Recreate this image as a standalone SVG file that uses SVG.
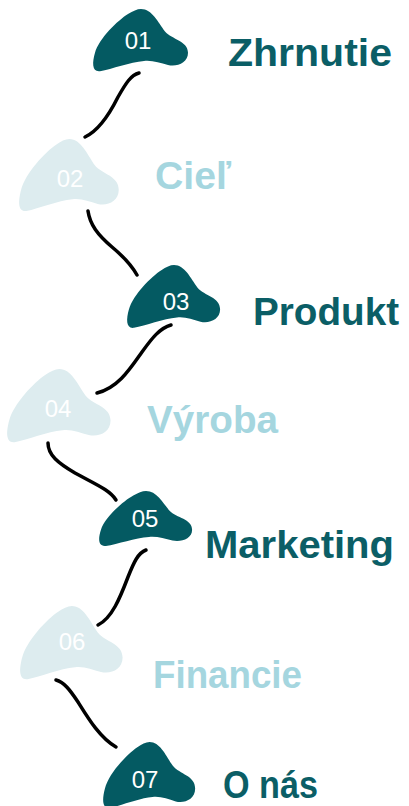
<svg xmlns="http://www.w3.org/2000/svg" width="409" height="806" viewBox="0 0 409 806">
  <style>
    .dark { fill: #045A62; }
    .light { fill: #DDECEF; }
    .num { font-family: "Liberation Sans", Arial, sans-serif; font-size: 24px; fill: #FFFFFF; text-anchor: middle; }
    .lbl { font-family: "Liberation Sans", Arial, sans-serif; font-weight: bold; font-size: 38px; }
    .lbl-dark { fill: #0B5E66; }
    .lbl-light { fill: #A5D6DF; }
    .conn { fill: none; stroke: #000000; stroke-width: 3.5; stroke-linecap: round; }
  </style>
  <defs>
    <path id="blob" d="M48,0 C59,0 65,13 72,22 C79,30 95,31 95,43 C95,53 84,57 75,55 C67,53 59,50 51,51 C37,52 19,59 7,61 C-1,62 -1,53 2,43 C6,29 25,11 35,5 C40,2 44,0 48,0 Z"/>
  </defs>
  <rect width="409" height="806" fill="#FFFFFF"/>

  <g id="connectors">
    <path class="conn" d="M139,73 C131,75 126,83 118,97 C108,117 98,131 85,137"/>
    <path class="conn" d="M88,211 C90,225 98,235 112,247 C124,257 132,266 137,275"/>
    <path class="conn" d="M171,325 C160,328 152,338 142,352 C130,369 118,388 97,393"/>
    <path class="conn" d="M48,443 C48,455 58,463 75,473 C95,484 110,490 116,500"/>
    <path class="conn" d="M146,550 C138,553 134,562 128,577 C120,598 112,618 98,625"/>
    <path class="conn" d="M56,680 C64,682 70,690 78,702 C88,718 100,738 116,747"/>
  </g>

  <g id="node-01">
    <use href="#blob" class="dark" transform="translate(93,9) scale(1,1.02)"/>
    <text class="num" x="138" y="48.5">01</text>
    <text class="lbl lbl-dark" x="228" y="66" textLength="164" lengthAdjust="spacingAndGlyphs">Zhrnutie</text>
  </g>
  <g id="node-02">
    <use href="#blob" class="light" transform="translate(19,139) scale(1.05,1.18)"/>
    <text class="num" x="70" y="187">02</text>
    <text class="lbl lbl-light" x="155" y="189" textLength="76" lengthAdjust="spacingAndGlyphs">Cieľ</text>
  </g>
  <g id="node-03">
    <use href="#blob" class="dark" transform="translate(127,265) scale(0.98,1.03)"/>
    <text class="num" x="176" y="310">03</text>
    <text class="lbl lbl-dark" x="253" y="325" textLength="146" lengthAdjust="spacingAndGlyphs">Produkt</text>
  </g>
  <g id="node-04">
    <use href="#blob" class="light" transform="translate(7,369) scale(1.09,1.2)"/>
    <text class="num" x="58" y="417">04</text>
    <text class="lbl lbl-light" x="147" y="433" textLength="131" lengthAdjust="spacingAndGlyphs">Výroba</text>
  </g>
  <g id="node-05">
    <use href="#blob" class="dark" transform="translate(99,491) scale(0.98,0.9)"/>
    <text class="num" x="145" y="527">05</text>
    <text class="lbl lbl-dark" x="205" y="558" textLength="189" lengthAdjust="spacingAndGlyphs">Marketing</text>
  </g>
  <g id="node-06">
    <use href="#blob" class="light" transform="translate(20,606) scale(1.08,1.2)"/>
    <text class="num" x="72" y="650">06</text>
    <text class="lbl lbl-light" x="153" y="688" textLength="149" lengthAdjust="spacingAndGlyphs">Financie</text>
  </g>
  <g id="node-07">
    <use href="#blob" class="dark" transform="translate(103,742) scale(0.97,1.08)"/>
    <text class="num" x="145" y="788">07</text>
    <text class="lbl lbl-dark" x="223" y="798" textLength="95" lengthAdjust="spacingAndGlyphs">O nás</text>
  </g>
</svg>
